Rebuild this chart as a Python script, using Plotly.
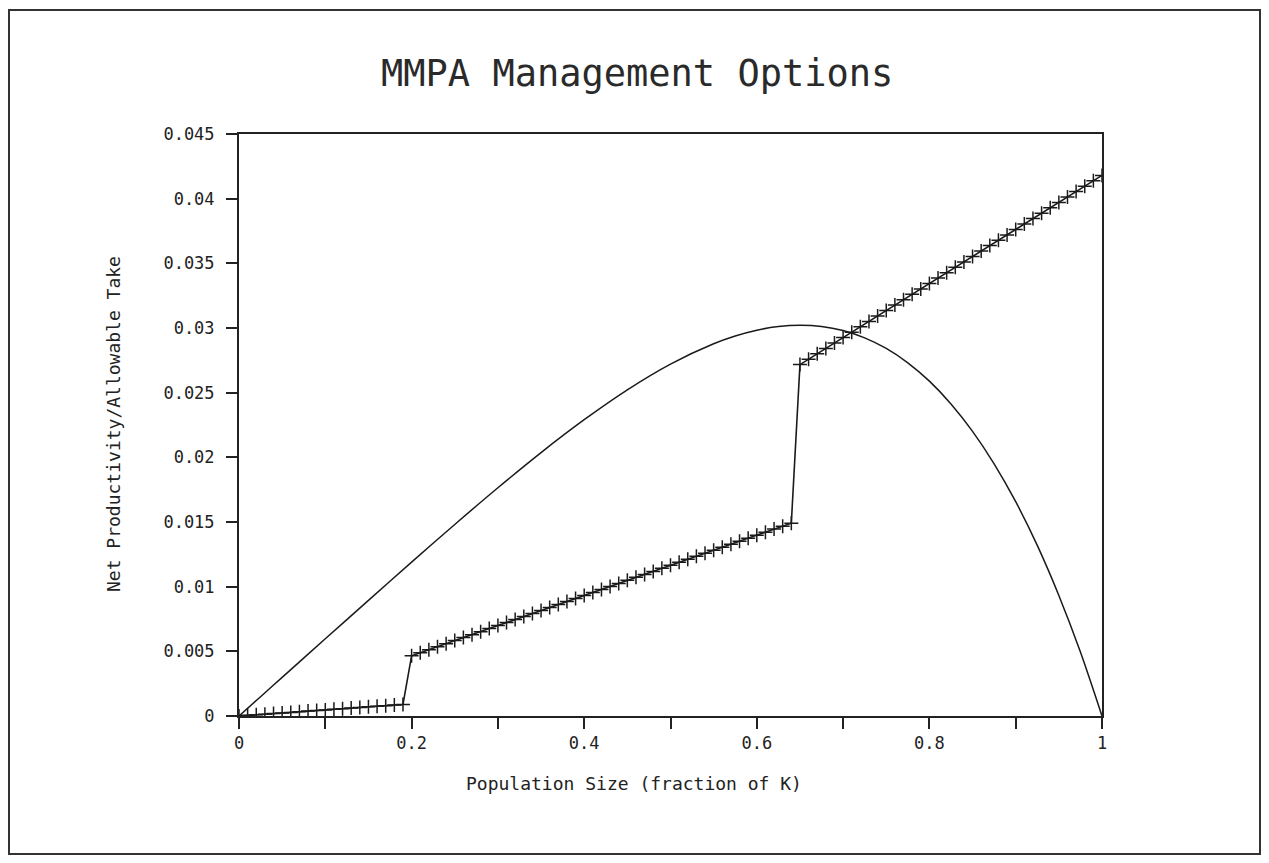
import plotly.graph_objects as go

# Net productivity curve
prod_x = [0.0, 0.025, 0.05, 0.1, 0.15, 0.2, 0.25, 0.3, 0.35, 0.4, 0.45, 0.5, 0.55, 0.575, 0.6,
          0.625, 0.65, 0.675, 0.7, 0.725, 0.75, 0.775, 0.8, 0.825, 0.85, 0.875, 0.9, 0.925,
          0.95, 0.975, 1.0]
prod_y = [0.0, 0.00149, 0.00299, 0.00597, 0.00894, 0.0119, 0.01481, 0.01765, 0.02037,
          0.02291, 0.02522, 0.02721, 0.02878, 0.02938, 0.02983, 0.03011, 0.03021, 0.03012,
          0.0298, 0.02924, 0.02842, 0.02731, 0.02589, 0.02413, 0.02201, 0.0195, 0.01657,
          0.01319, 0.00932, 0.00494, 0.0]

# Allowable take (stepped series with + markers)
take_x = [0.00, 0.01, 0.02, 0.03, 0.04, 0.05, 0.06, 0.07, 0.08, 0.09,
          0.10, 0.11, 0.12, 0.13, 0.14, 0.15, 0.16, 0.17, 0.18, 0.19,
          0.20, 0.21, 0.22, 0.23, 0.24, 0.25, 0.26, 0.27, 0.28, 0.29,
          0.30, 0.31, 0.32, 0.33, 0.34, 0.35, 0.36, 0.37, 0.38, 0.39,
          0.40, 0.41, 0.42, 0.43, 0.44, 0.45, 0.46, 0.47, 0.48, 0.49,
          0.50, 0.51, 0.52, 0.53, 0.54, 0.55, 0.56, 0.57, 0.58, 0.59,
          0.60, 0.61, 0.62, 0.63, 0.64,
          0.65, 0.66, 0.67, 0.68, 0.69, 0.70, 0.71, 0.72, 0.73, 0.74,
          0.75, 0.76, 0.77, 0.78, 0.79, 0.80, 0.81, 0.82, 0.83, 0.84,
          0.85, 0.86, 0.87, 0.88, 0.89, 0.90, 0.91, 0.92, 0.93, 0.94,
          0.95, 0.96, 0.97, 0.98, 0.99, 1.00]
take_y = [0.0, 0.00005, 0.00009, 0.00014, 0.00019, 0.00024, 0.00028, 0.00033, 0.00038, 0.00042,
          0.00047, 0.00052, 0.00056, 0.00061, 0.00066, 0.00071, 0.00075, 0.0008, 0.00085, 0.00089,
          0.00466, 0.00489, 0.00513, 0.00536, 0.00559, 0.00583, 0.00606, 0.00629, 0.00652, 0.00676,
          0.00699, 0.00722, 0.00746, 0.00769, 0.00792, 0.00816, 0.00839, 0.00862, 0.00885, 0.00909,
          0.00932, 0.00955, 0.00979, 0.01002, 0.01025, 0.01049, 0.01072, 0.01095, 0.01118, 0.01142,
          0.01165, 0.01188, 0.01212, 0.01235, 0.01258, 0.01282, 0.01305, 0.01328, 0.01351, 0.01375,
          0.01398, 0.01421, 0.01445, 0.01468, 0.01491,
          0.02717, 0.02759, 0.02801, 0.02842, 0.02884, 0.02926, 0.02968, 0.0301, 0.03051, 0.03093,
          0.03135, 0.03177, 0.03219, 0.0326, 0.03302, 0.03344, 0.03386, 0.03428, 0.03469, 0.03511,
          0.03553, 0.03595, 0.03637, 0.03678, 0.0372, 0.03762, 0.03804, 0.03846, 0.03887, 0.03929,
          0.03971, 0.04013, 0.04055, 0.04096, 0.04138, 0.0418]

x_tickvals = [0.0, 0.1, 0.2, 0.3, 0.4, 0.5, 0.6, 0.7, 0.8, 0.9, 1.0]
x_ticktext = ["0", "", "0.2", "", "0.4", "", "0.6", "", "0.8", "", "1"]
y_tickvals = [0.0, 0.005, 0.01, 0.015, 0.02, 0.025, 0.03, 0.035, 0.04, 0.045]
y_ticktext = ["0", "0.005", "0.01", "0.015", "0.02", "0.025", "0.03", "0.035", "0.04", "0.045"]

TITLE = "MMPA Management Options"
XTITLE = "Population Size (fraction of K)"
YTITLE = "Net Productivity/Allowable Take"

FONT = "DejaVu Sans Mono"
OFF = 8  # page body offset in the browser
W, H = 1269 - 2 * OFF, 863 - 2 * OFF
# plot area in screenshot pixels
SL, SR, ST, SB = 239, 1102, 134, 716
L, R, T, B = SL - OFF, SR - OFF, ST - OFF, SB - OFF
PW, PH = R - L, B - T


def px(x):
    return (x - SL) / PW


def py(y):
    return (SB - y) / PH


fig = go.Figure()
fig.add_trace(go.Scatter(x=prod_x, y=prod_y, mode="lines",
                         line=dict(color="#1a1a1a", width=1.5, shape="spline", smoothing=0.8),
                         showlegend=False, hoverinfo="x+y"))
fig.add_trace(go.Scatter(x=take_x, y=take_y, mode="lines+markers",
                         line=dict(color="#1a1a1a", width=1.6),
                         marker=dict(symbol="cross-thin", size=10,
                                     line=dict(color="#1a1a1a", width=1.5)),
                         showlegend=False, hoverinfo="x+y"))

axis_common = dict(showline=True, linecolor="#222", linewidth=2, mirror=True,
                   ticks="outside", ticklen=11, tickwidth=1.5, tickcolor="#222",
                   showgrid=False, zeroline=False,
                   tickfont=dict(family=FONT, size=17, color="#222"))

fig.update_xaxes(range=[0, 1], tickmode="array", tickvals=x_tickvals, ticktext=x_ticktext,
                 **axis_common)
fig.update_yaxes(range=[0, 0.045], tickmode="array", tickvals=y_tickvals, ticktext=y_ticktext,
                 ticklabelstandoff=8, **axis_common)

fig.update_layout(
    width=W, height=H,
    margin=dict(l=L, r=W - R, t=T, b=H - B, autoexpand=False),
    paper_bgcolor="white", plot_bgcolor="white",
    font=dict(family=FONT, color="#222"),
    annotations=[
        dict(text=TITLE, x=px(637), y=py(74), xref="paper", yref="paper",
             xanchor="center", yanchor="middle", showarrow=False,
             font=dict(family=FONT, size=37, color="#2a2a2a")),
        dict(text=XTITLE, x=px(634), y=py(783), xref="paper", yref="paper",
             xanchor="center", yanchor="middle", showarrow=False,
             font=dict(family=FONT, size=18, color="#222")),
        dict(text=YTITLE, x=px(113), y=py(424), xref="paper", yref="paper",
             xanchor="center", yanchor="middle", showarrow=False, textangle=-90,
             font=dict(family=FONT, size=18, color="#222")),
    ],
    shapes=[
        dict(type="rect", xref="paper", yref="paper",
             x0=px(9), x1=px(1260), y0=py(854), y1=py(10),
             line=dict(color="#333", width=2), fillcolor="rgba(0,0,0,0)", layer="below"),
    ],
)

fig.write_html("out.html")
